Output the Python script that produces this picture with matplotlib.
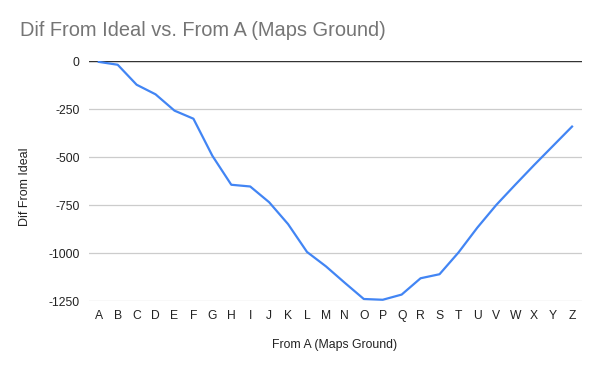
import matplotlib
matplotlib.use("Agg")
import matplotlib.pyplot as plt

# From A (Maps Ground) -> Dif From Ideal
letters = list("ABCDEFGHIJKLMNOPQRSTUVWXYZ")
dif = [-3, -18, -122, -172, -257, -299, -492, -643, -652, -734, -848, -993,
       -1068, -1154, -1238, -1242, -1215, -1130, -1109, -996, -866, -748,
       -643, -540, -440, -340]
yticks = [0, -250, -500, -750, -1000, -1250]

plt.rcParams['font.family'] = ['Liberation Sans', 'DejaVu Sans']

fig = plt.figure(figsize=(6, 3.71), dpi=100)
W, H = 600, 371
ax = fig.add_axes([89.3 / W, 1 - 301.3 / H, (581.5 - 89.3) / W, (301.3 - 61.3) / H])

x = range(len(letters))
ax.plot(x, dif, color='#4285F4', lw=1.6, zorder=3, solid_joinstyle='round')
ax.axhline(0, color='#333333', lw=1.0, zorder=2)

ax.set_xlim(-0.5, len(letters) - 0.5)
ax.set_ylim(-1250, 0)
ax.set_yticks(yticks)
ax.set_yticklabels([str(v) for v in yticks])
ax.set_xticks(list(x))
ax.set_xticklabels(letters)
ax.grid(axis='y', color='#cccccc', lw=0.9, zorder=1)
ax.set_axisbelow(True)
for s in ax.spines.values():
    s.set_visible(False)
ax.tick_params(axis='both', length=0, labelsize=8.7, labelcolor='#222222')
ax.tick_params(axis='y', pad=7)
ax.tick_params(axis='x', pad=6)

fig.text(20 / W, 1 - 31 / H, "Dif From Ideal vs. From A (Maps Ground)",
         fontsize=14.4, color='#757575', va='center', ha='left')
fig.text(25 / W, 1 - 187 / H, "Dif From Ideal", rotation=90,
         fontsize=9, color='#222222', va='center', ha='center')
fig.text(335 / W, 1 - 345 / H, "From A (Maps Ground)",
         fontsize=8.8, color='#222222', va='center', ha='center')

fig.savefig("out.png", dpi=100, facecolor='white')
